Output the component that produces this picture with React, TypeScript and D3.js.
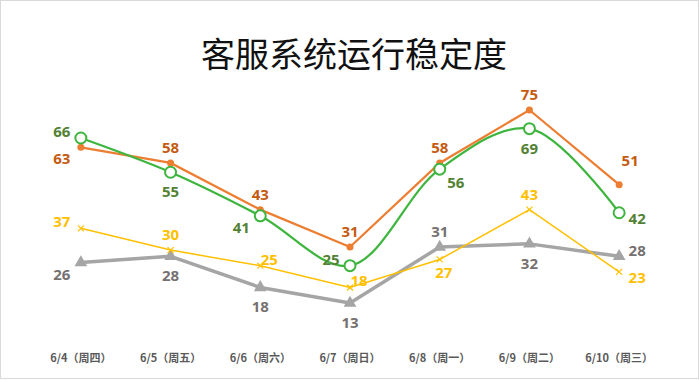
import React from "react";
import * as d3 from "d3";

const categories = ["6/4（周四）", "6/5（周五）", "6/6（周六）", "6/7（周日）", "6/8（周一）", "6/9（周二）", "6/10（周三）"];
const seriesOrange = [63, 58, 43, 31, 58, 75, 51];
const seriesGreen = [66, 55, 41, 25, 56, 69, 42];
const seriesYellow = [37, 30, 25, 18, 27, 43, 23];
const seriesGray = [26, 28, 18, 13, 31, 32, 28];

const placeOrange = ["lb", "a", "a", "a", "a", "a", "ra"];
const placeGreen = ["l", "b", "lb", "l", "rb", "b", "r"];
const placeYellow = ["l", "a", "rt", "rt", "bs", "a", "r"];
const placeGray = ["lb", "b", "b", "b", "a", "b", "ru"];

const W = 700, H = 380;
const offsets: Record<string, [number, number]> = {
  a: [0, -16], b: [0, 19], l: [-19, -7], lb: [-19, 11], r: [18, 5], ru: [18, -6],
  rt: [9, -7], rb: [16, 13], ra: [11, -25], bs: [4, 13],
};

const font = "'Open Sans', 'Noto Sans', sans-serif";

export default function App() {
  const x = d3.scaleBand<string>().domain(categories).range([36, 664]);
  const y = d3.scaleLinear().domain([0, 75]).range([343.5, 110]);
  const cx = (i: number) => (x(categories[i]) as number) + x.bandwidth() / 2;

  const straight = d3.line<number>().x((_, i) => cx(i)).y((d) => y(d));
  const smooth = d3.line<number>().x((_, i) => cx(i)).y((d) => y(d)).curve(d3.curveCatmullRom.alpha(0.5));

  const labels = (vals: number[], place: string[], color: string, key: string) =>
    vals.map((v, i) => {
      const [dx, dy] = offsets[place[i]];
      return (
        <text key={key + i} x={cx(i) + dx} y={y(v) + dy} fill={color} fontSize={15} fontWeight="bold"
          fontFamily={font} textAnchor="middle" dominantBaseline="central">{v}</text>
      );
    });

  const tri = d3.symbol().type(d3.symbolTriangle).size(70)();

  return (
    <div style={{ position: "fixed", left: 0, top: 0 }}>
      <svg width={W} height={H} style={{ display: "block" }}>
        <rect x={0.5} y={0.5} width={W - 2} height={H - 2} fill="#fff" stroke="#d9d9d9" />
        <text x={354} y={52} textAnchor="middle" dominantBaseline="central" fontSize={34}
          fontFamily="'Noto Sans CJK SC', sans-serif" fill="#111">客服系统运行稳定度</text>

        {/* gray */}
        <path d={straight(seriesGray) as string} fill="none" stroke="#A5A5A5" strokeWidth={3.5} strokeLinejoin="round" />
        {seriesGray.map((v, i) => (
          <path key={"gm" + i} d={tri as string} transform={`translate(${cx(i)},${y(v)})`} fill="#A5A5A5" />
        ))}
        {/* yellow */}
        <path d={straight(seriesYellow) as string} fill="none" stroke="#FFC000" strokeWidth={1.5} />
        {seriesYellow.map((v, i) => (
          <g key={"ym" + i} transform={`translate(${cx(i)},${y(v)})`} stroke="#FFC000" strokeWidth={1.2}>
            <line x1={-3} y1={-3} x2={3} y2={3} />
            <line x1={-3} y1={3} x2={3} y2={-3} />
          </g>
        ))}
        {/* orange */}
        <path d={straight(seriesOrange) as string} fill="none" stroke="#ED7D31" strokeWidth={2.25} />
        {seriesOrange.map((v, i) => (
          <circle key={"om" + i} cx={cx(i)} cy={y(v)} r={3.5} fill="#ED7D31" />
        ))}
        {/* green */}
        <path d={smooth(seriesGreen) as string} fill="none" stroke="#3EB53E" strokeWidth={2.25} />
        {seriesGreen.map((v, i) => (
          <circle key={"gr" + i} cx={cx(i)} cy={y(v)} r={5.5} fill="#fff" stroke="#3EB53E" strokeWidth={2} />
        ))}

        {labels(seriesOrange, placeOrange, "#C55A11", "ol")}
        {labels(seriesGreen, placeGreen, "#548235", "gl")}
        {labels(seriesYellow, placeYellow, "#FFC000", "yl")}
        {labels(seriesGray, placeGray, "#767171", "al")}

        {categories.map((c, i) => (
          <text key={"x" + i} x={cx(i)} y={357} textAnchor="middle" dominantBaseline="central" fontSize={11}
            fontWeight="bold" fontFamily="'Noto Sans CJK SC', sans-serif" fill="#595959">{c}</text>
        ))}
      </svg>
    </div>
  );
}
